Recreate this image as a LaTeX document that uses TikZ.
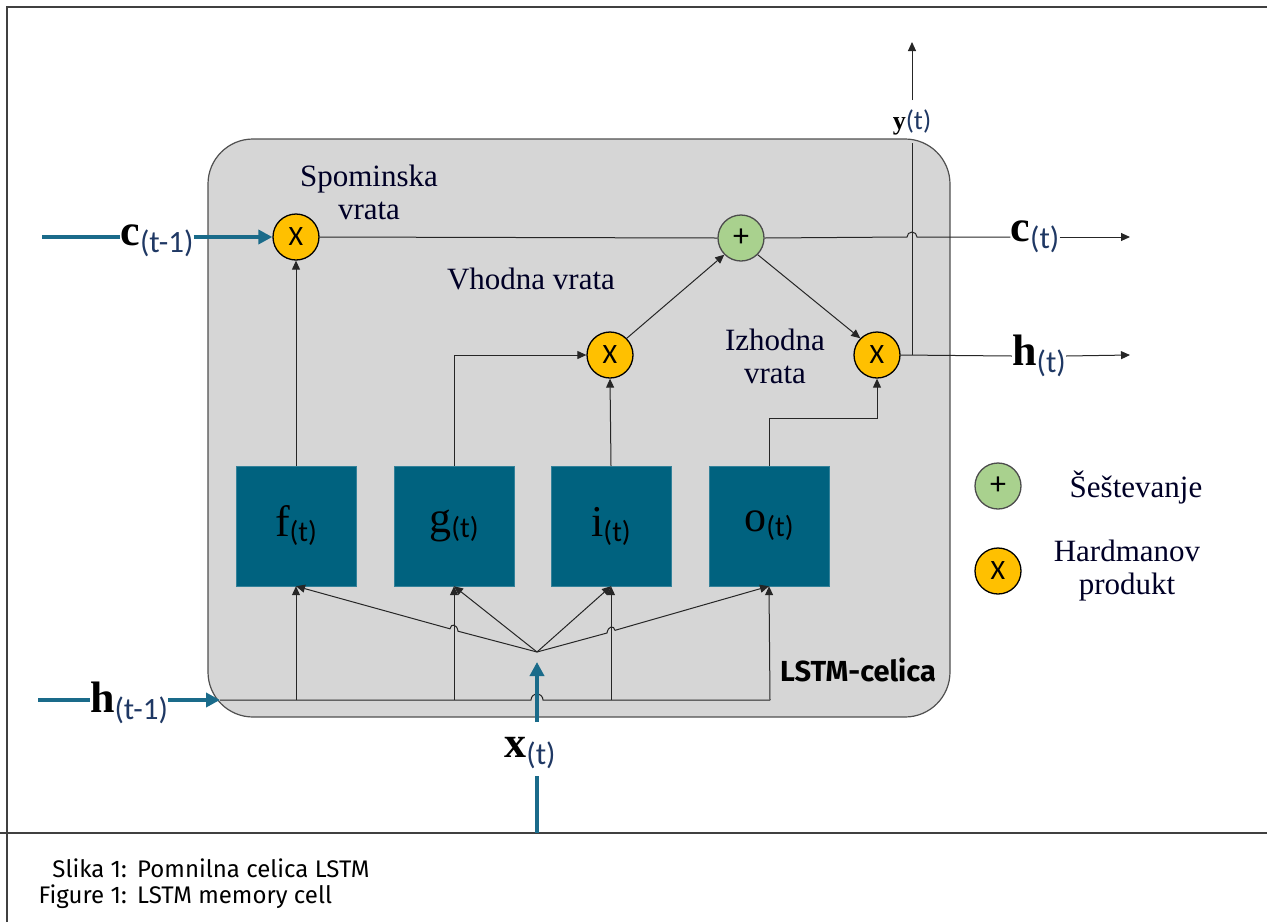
\documentclass[tikz,border=0pt]{standalone}
\usepackage{fontspec}
\setmainfont{Liberation Serif}
\newfontfamily\subf{Carlito}
\newfontfamily\capf{Fira Sans}
\usetikzlibrary{arrows.meta}
\definecolor{cellgray}{HTML}{D6D6D6}
\definecolor{cellborder}{HTML}{505050}
\definecolor{boxteal}{HTML}{00627F}
\definecolor{arrteal}{HTML}{1A6B8A}
\definecolor{multy}{HTML}{FFC000}
\definecolor{plusg}{HTML}{A9D18E}
\definecolor{subblue}{HTML}{1F3864}
\tikzset{
  opcirc/.style={circle, draw=black, line width=1.3pt, minimum size=46pt, inner sep=0pt, font=\subf\fontsize{28}{28}\selectfont},
  multnode/.style={opcirc, fill=multy},
  plusnode/.style={opcirc, fill=plusg, draw=black!70},
  gatebox/.style={rectangle, fill=boxteal, draw=boxteal!80!white, minimum width=120pt, minimum height=120pt, inner sep=0pt, font=\fontsize{44}{44}\selectfont},
  conn/.style={draw=black!85, line width=1pt},
  arr/.style={conn, -{Triangle[length=9pt,width=8pt]}},
  tealline/.style={draw=arrteal, line width=3.5pt},
  tealarr/.style={tealline, -{Triangle[length=14pt,width=14pt]}},
  lbl/.style={font=\fontsize{31}{33}\selectfont, align=center, inner sep=0pt, text=black!85!blue},
  varlbl/.style={font=\fontsize{44}{44}\selectfont\bfseries, inner sep=0pt},
  captxt/.style={font=\capf\fontsize{24}{24}\selectfont, inner sep=0pt},
}
\newcommand{\sbs}[1]{\raisebox{-7pt}{\subf\mdseries\fontsize{31}{31}\selectfont\color{subblue}#1}}
\newcommand{\bsb}[1]{\raisebox{-5pt}{\subf\fontsize{29}{29}\selectfont #1}}
\begin{document}
\begin{tikzpicture}[x=1pt,y=-1pt]
\useasboundingbox (0,0) rectangle (1267,922);
% frame
\draw[line width=1.6pt, draw=black!75] (7,922) -- (7,7) -- (1267,7);
\draw[line width=1.6pt, draw=black!75] (0,833) -- (1267,833);

% cell
\node[draw=cellborder, fill=cellgray, line width=1.2pt, rounded corners=45pt, minimum width=742pt, minimum height=578pt, inner sep=0pt] (cell) at (579,428) {};

% circles
\node[multnode] (mf) at (296,237) {X};
\node[plusnode] (plus) at (741,238) {\fontsize{32}{32}\selectfont +};
\node[multnode] (mi) at (610,355) {X};
\node[multnode] (mo) at (877,355) {X};

% gate boxes
\node[gatebox] (f) at (296,526) {f\bsb{(t)}};
\node[gatebox] (g) at (454,526) {g\bsb{(t)}};
\node[gatebox] (i) at (611,526) {i\bsb{(t)}};
\node[gatebox] (o) at (769,526) {o\bsb{(t)}};

% gate labels
\node[lbl] (lspom) at (369,192) {Spominska\\vrata};
\node[lbl] (lvh) at (531,279) {Vhodna vrata};
\node[lbl] (liz) at (775,356) {Izhodna\\vrata};
\node[font=\capf\bfseries\fontsize{29}{29}\selectfont, inner sep=0pt] (lstm) at (858,670) {LSTM-celica};

% legend
\node[plusnode] (legp) at (998,486) {\fontsize{32}{32}\selectfont +};
\node[multnode] (legm) at (998,571) {X};
\node[lbl] (legpt) at (1136,487) {Še\v{s}tevanje};
\node[lbl] (legmt) at (1127,571) {Hardmanov\\produkt};

% coordinates
\coordinate (xp) at (537,652);
\coordinate (hb) at (220,700);
\coordinate (hend) at (770,700);

% internal connectors
\draw[arr] (f.north) -- (mf.south);
\draw[arr] (g.north) |- (mi.west);
\draw[arr] (i.north) -- (mi.south);
\draw[arr] (o.north) -- (769,418) -| (mo.south);
\draw[conn] (mf.east) -- (plus.west);
\draw[arr] (mi.north east) -- (plus.south west);
\draw[arr] (plus.south east) -- (mo.north west);

% bottom h line with jump at x
\draw[conn] (hb) -- (531,700) arc[start angle=180,end angle=0,radius=6pt] -- (hend);
\draw[arr] (296,700) -- (f.south);
\draw[arr] (454,700) -- (g.south);
\draw[arr] (611,700) -- (i.south);
\draw[arr] (hend) -- (o.south);

% fan from x
\draw[arr] (xp) -- (458,631.2) .. controls (457,624) and (451,623) .. (450,628.8) -- (f.south);
\draw[arr] (xp) -- (g.south);
\draw[arr] (xp) -- (i.south);
\draw[arr] (xp) -- (607,633.0) .. controls (608,626) and (614,625) .. (615,630.3) -- (o.south);

% outputs
\node[varlbl] (ct) at (1035,237) {c\sbs{(t)}};
\node[varlbl] (ht) at (1039,356) {h\sbs{(t)}};
\node[font=\fontsize{26}{26}\selectfont\bfseries, inner sep=0pt] (yt) at (912,122) {y{\subf\mdseries\fontsize{27}{27}\selectfont\color{subblue}(t)}};
\coordinate (ybot) at (912,355);
\coordinate (ytop) at (912,143);
\coordinate (yarrs) at (912,100);
\coordinate (yarre) at (912,42);
\draw[conn] (plus.east) -- (907,237) arc[start angle=180,end angle=0,radius=5pt] -- (ct.west);
\draw[arr] (ct.east) -- (1130,237);
\draw[conn] (mo.east) -- (ht.west);
\draw[arr] (ht.east) -- (1130,355);
\draw[conn] (ybot) -- (ytop);
\draw[arr] (yarrs) -- (yarre);

% inputs
\node[varlbl] (ctm) at (157,241) {c\sbs{(t-1)}};
\node[varlbl] (htm) at (129,703) {h\sbs{(t-1)}};
\node[varlbl] (xt) at (530,753) {x\sbs{(t)}};
\coordinate (cin) at (42,237);
\coordinate (hin) at (38,700);
\coordinate (xin) at (537,833);
\draw[tealline] (cin) -- (ctm.west |- cin);
\draw[tealarr] (ctm.east |- cin) -- (mf.west);
\draw[tealline] (hin) -- (htm.west |- hin);
\draw[tealarr] (htm.east |- hin) -- (hb);
\draw[tealline] (xin) -- (537,776);
\draw[tealarr] (537,722) -- (537,662);

% caption
\node[captxt, anchor=east] (c1a) at (127,868) {Slika 1:};
\node[captxt, anchor=west] (c1b) at (137,868) {Pomnilna celica LSTM};
\node[captxt, anchor=east] (c2a) at (127,897) {Figure 1:};
\node[captxt, anchor=west] (c2b) at (137,897) {LSTM memory cell};
\end{tikzpicture}
\end{document}
